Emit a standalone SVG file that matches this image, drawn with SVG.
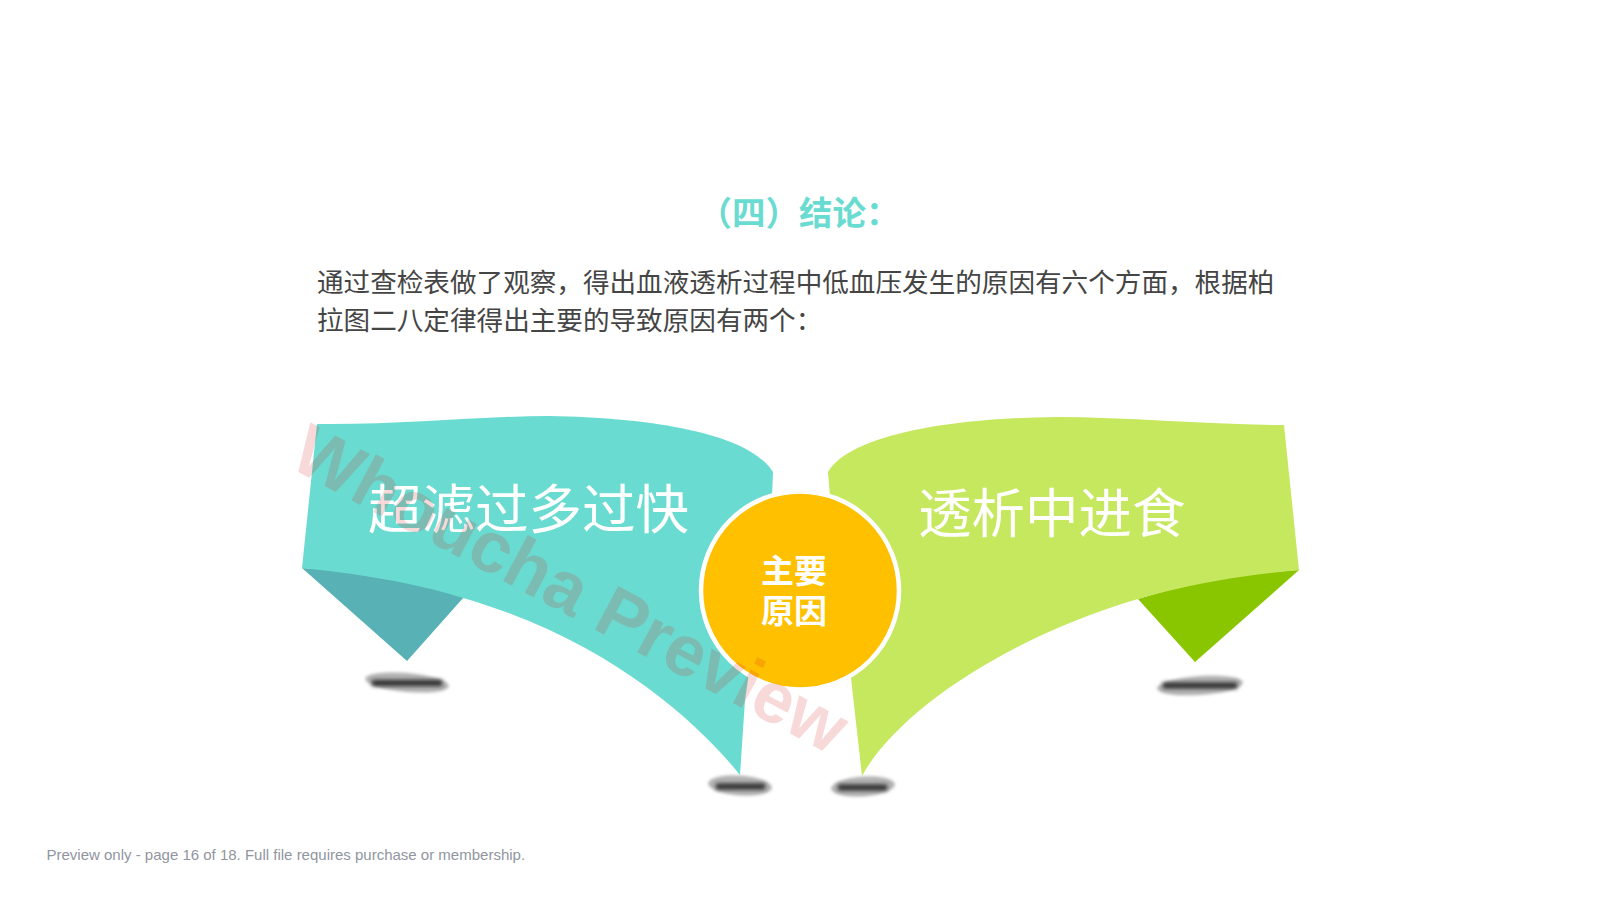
<svg xmlns="http://www.w3.org/2000/svg" width="1601" height="900" viewBox="0 0 1601 900">
  <style>
    .cjk { font-family: "Noto Sans CJK SC", "Liberation Sans", sans-serif; }
    .body { font-size: 26.6px; fill: #454545; }
    .big { font-size: 53.5px; fill: #ffffff; }
    .hub { font-size: 33px; font-weight: 700; fill: #ffffff; text-anchor: middle; }
    .sh { fill: #b4b4b4; filter: url(#soft); }
    .bar { fill: #2a2a2a; filter: url(#soft2); }
  </style>
  <defs>
    <filter id="soft" x="-20%" y="-50%" width="140%" height="200%"><feGaussianBlur stdDeviation="1.8"/></filter>
    <filter id="soft2" x="-20%" y="-200%" width="140%" height="500%"><feGaussianBlur stdDeviation="2.2"/></filter>
  </defs>
  <rect width="1601" height="900" fill="#ffffff"/>

  <g id="heading">
    <text class="cjk" x="799" y="225" font-size="33.500" font-weight="700" fill="#6adbd0" text-anchor="middle">（四）结论：</text>
    <text class="cjk body" x="317" y="292">通过查检表做了观察，得出血液透析过程中低血压发生的原因有六个方面，根据柏</text>
    <text class="cjk body" x="317" y="330">拉图二八定律得出主要的导致原因有两个：</text>
  </g>

  <g id="shadows">
    <ellipse class="sh" cx="407" cy="682.500" rx="42" ry="9.500" transform="rotate(5 407 682.500)"/>
    <rect class="bar" x="372" y="680" width="70" height="6"/>
    <ellipse class="sh" cx="740" cy="785.500" rx="32" ry="10" transform="rotate(4 740 785.500)"/>
    <rect class="bar" x="716" y="783.500" width="49" height="6"/>
    <ellipse class="sh" cx="863" cy="786.500" rx="32" ry="10" transform="rotate(-4 863 786.500)"/>
    <rect class="bar" x="838" y="784.500" width="49" height="6"/>
    <ellipse class="sh" cx="1200" cy="685.500" rx="43" ry="9.500" transform="rotate(-4 1200 685.500)"/>
    <rect class="bar" x="1163" y="682.500" width="74" height="6"/>
  </g>

  <g id="banner-left">
    <path d="M302 568 L407 661 L464 597 Q390 572 302 568 Z" fill="#57b1b5"/>
    <path d="M317 424 C400 425 480 416 550 416 C660 418 750 435 773 472 L771 520 L745 700 L740 775 C700 725 610 640 463 598 Q400 578 302 568 Z" fill="#6adbd0"/>
    <text class="cjk big" x="368" y="529">超滤过多过快</text>
  </g>

  <g id="banner-right">
    <path d="M1299 570 L1195 662 L1138 599 Q1210 576 1299 570 Z" fill="#8ac600"/>
    <path d="M1284 425 C1210 425 1130 417 1056 417 C950 418 850 435 828 472 L832 520 L851 678 L862 776 C895 715 1000 640 1138 599 Q1210 578 1299 570 Z" fill="#c6e85f"/>
    <text class="cjk big" x="918" y="533">透析中进食</text>
  </g>

  <g id="hub">
    <circle cx="800" cy="590.500" r="99" fill="#ffc000" stroke="#ffffff" stroke-width="4.500"/>
    <text class="cjk hub"><tspan x="794" y="583">主要</tspan><tspan x="794" y="623">原因</tspan></text>
  </g>

  <text id="watermark" x="0" y="0" font-family="Liberation Sans, sans-serif" font-size="72" font-weight="700" fill="#d81f1f" fill-opacity="0.17" transform="translate(287 466) rotate(28)">Whoucha Preview</text>

  <text id="footer" x="46.500" y="860" font-family="Liberation Sans, sans-serif" font-size="15" fill="#9095a0">Preview only - page 16 of 18. Full file requires purchase or membership.</text>
</svg>
